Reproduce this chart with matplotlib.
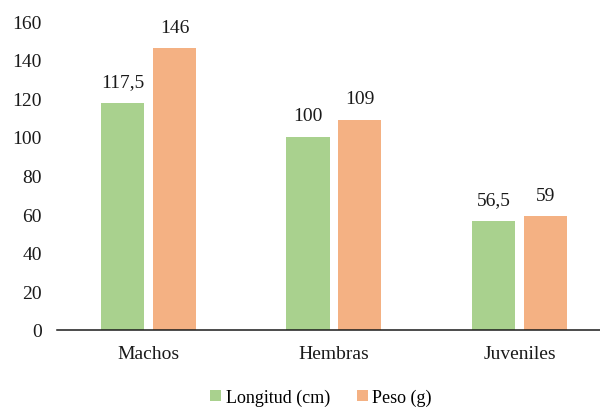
import matplotlib
matplotlib.use("Agg")
import matplotlib.pyplot as plt
import numpy as np

categories = ["Machos", "Hembras", "Juveniles"]
longitud = [117.5, 100, 56.5]
peso = [146, 109, 59]
series_names = ["Longitud (cm)", "Peso (g)"]
yticks = [0, 20, 40, 60, 80, 100, 120, 140, 160]

green = "#A9D18E"
orange = "#F4B183"

plt.rcParams["font.family"] = ["Liberation Serif", "DejaVu Serif"]

fig = plt.figure(figsize=(6.0, 4.1), dpi=100)
ax = fig.add_axes([0.095, 0.1927, 0.905, 0.7536])

x = np.arange(len(categories))
w = 0.232
off = 0.14
b1 = ax.bar(x - off, longitud, w, color=green, label=series_names[0])
b2 = ax.bar(x + off, peso, w, color=orange, label=series_names[1])

def fmt(v):
    s = f"{v:g}"
    return s.replace(".", ",")

for bars, vals in ((b1, longitud), (b2, peso)):
    for rect, v in zip(bars, vals):
        ax.annotate(fmt(v), (rect.get_x() + rect.get_width() / 2, v),
                    xytext=(0, 9), textcoords="offset points",
                    ha="center", va="bottom", fontsize=14, color="#1a1a1a")

ax.set_xlim(-0.493, 2.434)
ax.set_ylim(0, 160)
ax.set_yticks(yticks)
ax.set_xticks(x)
ax.set_xticklabels(categories)
ax.tick_params(axis="both", length=0, labelsize=14, colors="#1a1a1a")
ax.tick_params(axis="y", pad=11)
ax.tick_params(axis="x", pad=11)

for s in ("top", "right", "left"):
    ax.spines[s].set_visible(False)
ax.spines["bottom"].set_color("#1a1a1a")
ax.spines["bottom"].set_linewidth(1.1)

fig.legend(handles=[b1, b2], labels=series_names, loc="center",
           bbox_to_anchor=(0.535, 0.028), ncol=2, frameon=False,
           fontsize=13, handlelength=0.6, handleheight=0.6,
           handletextpad=0.25, columnspacing=1.5, borderpad=0.1)

fig.savefig("out.png", dpi=100)
